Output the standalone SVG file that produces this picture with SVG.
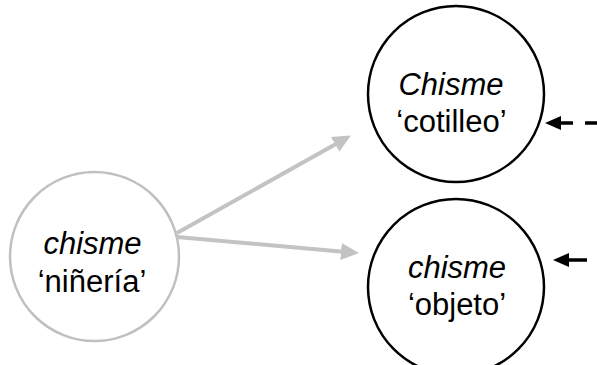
<svg xmlns="http://www.w3.org/2000/svg" width="597" height="365" viewBox="0 0 597 365">
<style>
.t{font-family:"Liberation Sans",Arial,sans-serif;font-size:31px;fill:#000;text-anchor:middle}
.i{font-style:italic}
.gray{fill:#fff;stroke:#c0c0c0;stroke-width:2.5}
.blk{fill:#fff;stroke:#000;stroke-width:2.5}
.ga{stroke:#c3c3c3;stroke-width:4;fill:none}
.ba{stroke:#000;stroke-width:3.5;fill:none}
</style>
<defs>
<marker id="gh" markerUnits="userSpaceOnUse" viewBox="0 0 18 17" markerWidth="18" markerHeight="17" refX="5" refY="8.5" orient="auto">
<path d="M0,0 L18,8.5 L0,17 z" fill="#c3c3c3"/>
</marker>
<marker id="bh" markerUnits="userSpaceOnUse" viewBox="0 0 16 14" markerWidth="16" markerHeight="14" refX="3" refY="7" orient="auto">
<path d="M0,0 L16,7 L0,14 z" fill="#000"/>
</marker>
</defs>
<g id="connectors">
<line class="ga" x1="177" y1="233" x2="339.5" y2="141.9" marker-end="url(#gh)"/>
<line class="ga" x1="177" y1="237" x2="346" y2="251.9" marker-end="url(#gh)"/>
<line class="ba" x1="602" y1="123" x2="558" y2="123" stroke-dasharray="17 12" marker-end="url(#bh)"/>
<line class="ba" x1="587" y1="260" x2="566" y2="260" marker-end="url(#bh)"/>
</g>
<g id="node-ninieria">
<circle class="gray" cx="94.5" cy="256.5" r="84.5"/>
<text class="t i" x="92.5" y="254">chisme</text>
<text class="t" x="92" y="292">‘niñería’</text>
</g>
<g id="node-cotilleo">
<circle class="blk" cx="456" cy="94" r="88"/>
<text class="t i" x="451" y="95">Chisme</text>
<text class="t" x="451.5" y="132">‘cotilleo’</text>
</g>
<g id="node-objeto">
<circle class="blk" cx="456" cy="287" r="88"/>
<text class="t i" x="457" y="278">chisme</text>
<text class="t" x="457" y="315">‘objeto’</text>
</g>
</svg>
